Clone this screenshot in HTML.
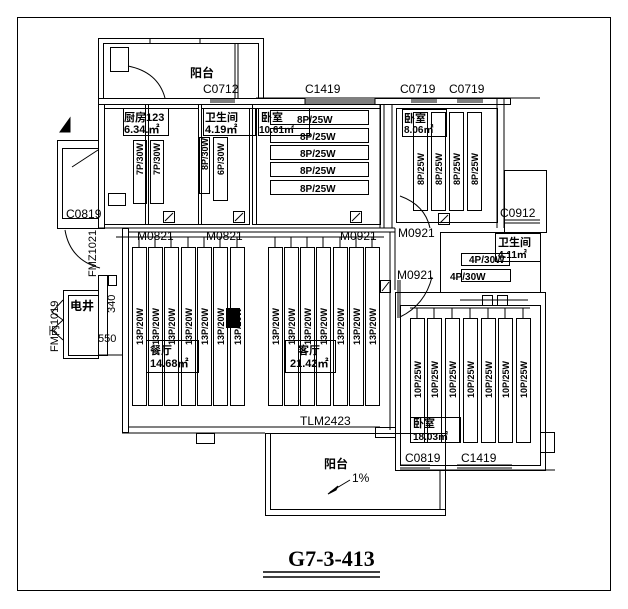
<!DOCTYPE html>
<html><head><meta charset="utf-8"><style>
html,body{margin:0;padding:0;background:#fff}
svg{display:block}
text{font-family:"Liberation Sans","Noto Sans CJK SC",sans-serif;fill:#000}
.n{font-family:"Liberation Sans Narrow","Liberation Sans",sans-serif}
.b{font-weight:bold}
</style></head><body>
<svg width="628" height="609" viewBox="0 0 628 609" xmlns="http://www.w3.org/2000/svg" fill="none" stroke="#000" stroke-width="1">
<!-- frame -->
<rect x="17.5" y="17.5" width="593" height="573"/>
<!-- top balcony -->
<rect x="98.5" y="38.5" width="165" height="60"/>
<rect x="103.5" y="43.5" width="155" height="55"/>
<rect x="110.5" y="47.5" width="18" height="24"/>
<line x1="150" y1="38" x2="150" y2="44"/><line x1="200" y1="38" x2="200" y2="44"/>
<path d="M128 66 Q158 72 165 98"/>
<line x1="235" y1="44" x2="235" y2="98"/><line x1="238" y1="44" x2="238" y2="98"/>
<!-- top wall -->
<rect x="98.5" y="98.5" width="412" height="6"/>
<line x1="256" y1="98" x2="540" y2="98"/>
<rect x="305" y="98" width="70" height="6" fill="#fff"/>
<line x1="305" y1="100" x2="375" y2="100"/><line x1="305" y1="102" x2="375" y2="102"/>
<line x1="210" y1="100" x2="235" y2="100"/><line x1="210" y1="102" x2="235" y2="102"/>
<line x1="411" y1="100" x2="437" y2="100"/><line x1="411" y1="102" x2="437" y2="102"/>
<line x1="457" y1="100" x2="483" y2="100"/><line x1="457" y1="102" x2="483" y2="102"/>
<!-- kitchen -->
<rect x="98.5" y="104.5" width="6" height="124"/>
<rect x="145.5" y="104.5" width="3" height="120"/>
<rect x="104.5" y="108.5" width="94" height="116"/>
<rect x="108.5" y="193.5" width="17" height="12"/>
<rect x="123.5" y="108.5" width="45" height="27"/>
<rect x="133.5" y="140.5" width="13" height="63"/><rect x="150.5" y="140.5" width="13" height="63"/>
<rect x="163.5" y="211.5" width="11" height="11"/><line x1="165" y1="221" x2="173" y2="213"/>
<!-- bath1 -->
<rect x="198.5" y="104.5" width="3" height="120"/><rect x="201.5" y="108.5" width="48" height="116"/>
<rect x="203.5" y="108.5" width="52" height="27"/>
<rect x="199.5" y="137.5" width="10" height="56"/><rect x="213.5" y="137.5" width="14" height="63"/>
<rect x="233.5" y="211.5" width="11" height="11"/><line x1="235" y1="221" x2="243" y2="213"/>
<!-- bedroom -->
<rect x="252.5" y="104.5" width="128" height="120"/>
<rect x="256.5" y="108.5" width="124" height="116"/>
<rect x="258.5" y="108.5" width="51" height="27"/>
<rect x="270.5" y="110.5" width="98" height="14"/><rect x="270.5" y="128.5" width="98" height="14"/>
<rect x="270.5" y="145.5" width="98" height="14"/><rect x="270.5" y="162.5" width="98" height="14"/>
<rect x="270.5" y="180.5" width="98" height="14"/>
<rect x="350.5" y="211.5" width="11" height="11"/><line x1="352" y1="221" x2="360" y2="213"/>
<line x1="380" y1="104" x2="380" y2="228"/><line x1="384" y1="104" x2="384" y2="228"/>
<line x1="392" y1="104" x2="392" y2="228"/>
<!-- right bedroom -->
<rect x="396.5" y="108.5" width="101" height="114"/>
<rect x="402.5" y="109.5" width="44" height="27"/>
<rect x="413.5" y="112.5" width="14" height="98"/><rect x="431.5" y="112.5" width="14" height="98"/>
<rect x="449.5" y="112.5" width="14" height="98"/><rect x="467.5" y="112.5" width="14" height="98"/>
<rect x="438.5" y="213.5" width="11" height="11"/><line x1="440" y1="223" x2="448" y2="215"/>
<path d="M400 196 Q425 205 430 228"/>
<line x1="497" y1="98" x2="497" y2="228"/><line x1="504" y1="98" x2="504" y2="228"/>
<rect x="504.5" y="170.5" width="42" height="62"/>
<line x1="504" y1="220" x2="540" y2="220"/><line x1="504" y1="223" x2="540" y2="223"/>
<!-- left protrusion -->
<rect x="57.5" y="140.5" width="41" height="88"/><rect x="62.5" y="148.5" width="36" height="70"/>
<path d="M60 132 L70 118 L70 132 Z" fill="#000"/>
<path d="M72 167 L98 150"/>
<path d="M65 230 Q70 260 100 268"/>
<!-- central living wall -->
<rect x="122.5" y="228.5" width="6" height="204"/>
<line x1="98" y1="228" x2="395" y2="228"/><line x1="128" y1="232" x2="395" y2="232"/>
<line x1="128" y1="427" x2="380" y2="427"/><line x1="122" y1="433" x2="265" y2="433"/>
<rect x="196.5" y="433.5" width="18" height="10"/>
<!-- living radiators -->
<g>
<rect x="132.5" y="247.5" width="14" height="158"/><rect x="148.5" y="247.5" width="14" height="158"/>
<rect x="164.5" y="247.5" width="14" height="158"/><rect x="181.5" y="247.5" width="14" height="158"/>
<rect x="197.5" y="247.5" width="14" height="158"/><rect x="213.5" y="247.5" width="14" height="158"/>
<rect x="230.5" y="247.5" width="14" height="158"/>
<rect x="268.5" y="247.5" width="14" height="158"/><rect x="284.5" y="247.5" width="14" height="158"/>
<rect x="300.5" y="247.5" width="14" height="158"/><rect x="316.5" y="247.5" width="14" height="158"/>
<rect x="333.5" y="247.5" width="14" height="158"/><rect x="349.5" y="247.5" width="14" height="158"/>
<rect x="365.5" y="247.5" width="14" height="158"/>
</g>
<line x1="116" y1="237" x2="384" y2="237"/>
<path d="M139 237v10M155 237v10M171 237v10M188 237v10M204 237v10M220 237v10M237 237v10M275 237v10M291 237v10M307 237v10M323 237v10M340 237v10M356 237v10M372 237v10"/>
<rect x="146.5" y="340.5" width="52" height="32"/><rect x="285.5" y="340.5" width="50" height="32"/>
<path d="M226 308 h14 v20 h-14z" fill="#000" stroke="none"/>
<!-- electric shaft -->
<rect x="63.5" y="290.5" width="35" height="68"/><rect x="68.5" y="295.5" width="30" height="60"/>
<path d="M63 300 L52 312 L63 320 L52 330 L63 340"/>
<rect x="98.5" y="275.5" width="9" height="80"/>
<rect x="108.5" y="275.5" width="8" height="10"/>
<line x1="98" y1="355" x2="123" y2="355"/>
<!-- right divider -->
<line x1="395" y1="228" x2="395" y2="290"/><line x1="390" y1="232" x2="390" y2="430"/>
<rect x="380.5" y="280.5" width="10" height="12"/><line x1="382" y1="291" x2="389" y2="282"/>
<path d="M398 280 L398 318 M400 280 L400 318 M400 317 Q425 305 432 277"/>
<!-- bath 2 -->
<rect x="440.5" y="232.5" width="100" height="60"/>
<rect x="495.5" y="233.5" width="45" height="28"/>
<rect x="461.5" y="253.5" width="48" height="12"/><rect x="461.5" y="269.5" width="49" height="12"/>
<rect x="482.5" y="295.5" width="10" height="10"/><rect x="497.5" y="295.5" width="10" height="10"/>
<line x1="460" y1="300" x2="528" y2="300"/>
<!-- lower bedroom -->
<rect x="395.5" y="292.5" width="150" height="178"/><rect x="400.5" y="305.5" width="140" height="160"/>
<line x1="410" y1="308" x2="530" y2="308"/>
<rect x="410.5" y="318.5" width="14" height="124"/><rect x="427.5" y="318.5" width="14" height="124"/>
<rect x="445.5" y="318.5" width="14" height="124"/><rect x="463.5" y="318.5" width="14" height="124"/>
<rect x="481.5" y="318.5" width="14" height="124"/><rect x="498.5" y="318.5" width="14" height="124"/>
<rect x="516.5" y="318.5" width="14" height="124"/>
<path d="M417 308v10M434 308v10M452 308v10M470 308v10M488 308v10M505 308v10M523 308v10"/>
<rect x="410.5" y="417.5" width="50" height="25"/>
<rect x="540.5" y="432.5" width="14" height="20"/>
<line x1="400" y1="470" x2="555" y2="470"/>
<line x1="400" y1="465" x2="430" y2="465"/><line x1="457" y1="465" x2="512" y2="465"/>
<line x1="457" y1="468" x2="512" y2="468"/><line x1="400" y1="468" x2="430" y2="468"/>
<!-- bottom balcony -->
<rect x="265.5" y="433.5" width="180" height="82"/><rect x="270.5" y="433.5" width="175" height="76"/>
<rect x="375.5" y="427.5" width="20" height="10"/>
<line x1="334" y1="427" x2="380" y2="427"/>
<path d="M330 492 L350 480" /><path d="M328 494 L338 486 L336 490 Z" fill="#000"/>
<line x1="440" y1="470" x2="440" y2="510"/>
<!-- title underline -->
<line x1="263" y1="572" x2="380" y2="572" stroke-width="1.5"/><line x1="263" y1="577" x2="380" y2="577" stroke-width="1.5"/>
<!-- texts -->
<g stroke="none">
<text x="190" y="77" font-size="12" class="b">阳台</text>
<text x="203" y="93" font-size="12" class="n">C0712</text>
<text x="305" y="93" font-size="12" class="n">C1419</text>
<text x="400" y="93" font-size="12" class="n">C0719</text>
<text x="449" y="93" font-size="12" class="n">C0719</text>
<text x="124" y="121" font-size="11" class="b">厨房123</text>
<text x="124" y="133" font-size="11" class="b">6.34.㎡</text>
<text x="205" y="121" font-size="11" class="b">卫生间</text>
<text x="205" y="133" font-size="11" class="b">4.19㎡</text>
<text x="261" y="121" font-size="11" class="b">卧室</text>
<text x="259" y="133" font-size="10" class="b">10.61㎡</text>
<text x="297" y="123" font-size="10" class="b">8P/25W</text>
<text x="300" y="140" font-size="10" class="b">8P/25W</text>
<text x="300" y="157" font-size="10" class="b">8P/25W</text>
<text x="300" y="174" font-size="10" class="b">8P/25W</text>
<text x="300" y="192" font-size="10" class="b">8P/25W</text>
<text x="404" y="122" font-size="11" class="b">卧室</text>
<text x="404" y="133" font-size="10" class="b">8.06㎡</text>
<text x="66" y="218" font-size="12" class="n">C0819</text>
<text x="137" y="240" font-size="12" class="n">M0821</text>
<text x="206" y="240" font-size="12" class="n">M0821</text>
<text x="340" y="240" font-size="12" class="n">M0921</text>
<text x="398" y="237" font-size="12" class="n">M0921</text>
<text x="500" y="217" font-size="12" class="n">C0912</text>
<text x="397" y="279" font-size="12" class="n">M0921</text>
<text x="498" y="246" font-size="11" class="b">卫生间</text>
<text x="498" y="258" font-size="10" class="b">4.11㎡</text>
<text x="469" y="263" font-size="10" class="b">4P/30W</text>
<text x="450" y="280" font-size="10" class="b">4P/30W</text>
<text x="70" y="310" font-size="12" class="b">电井</text>
<text x="150" y="354" font-size="11" class="b">餐厅</text>
<text x="150" y="367" font-size="11" class="b">14.68㎡</text>
<text x="298" y="354" font-size="11" class="b">客厅</text>
<text x="290" y="367" font-size="11" class="b">21.42㎡</text>
<text x="300" y="425" font-size="12" class="n">TLM2423</text>
<text x="413" y="427" font-size="11" class="b">卧室</text>
<text x="413" y="440" font-size="10" class="b">18.03㎡</text>
<text x="405" y="462" font-size="12" class="n">C0819</text>
<text x="461" y="462" font-size="12" class="n">C1419</text>
<text x="324" y="468" font-size="12" class="b">阳台</text>
<text x="352" y="482" font-size="12" class="n">1%</text>
<text x="96" y="277" font-size="11" class="n" transform="rotate(-90 96 277)">FMZ1021</text>
<text x="58" y="352" font-size="11" class="n" transform="rotate(-90 58 352)">FM丙1019</text>
<text x="115" y="313" font-size="11" class="n" transform="rotate(-90 115 313)">340</text>
<text x="98" y="342" font-size="11" class="n">550</text>
<text x="288" y="566" font-size="22" class="b" font-family="Liberation Serif, serif" style="font-family:'Liberation Serif',serif">G7-3-413</text>
</g>
<g stroke="none" font-size="9" class="b">
<text transform="translate(143 175) rotate(-90)" x="0" y="0" font-size="9" font-weight="bold">7P/30W</text>
<text transform="translate(160 175) rotate(-90)" font-size="9" font-weight="bold">7P/30W</text>
<text transform="translate(208 170) rotate(-90)" font-size="9" font-weight="bold">8P/30W</text>
<text transform="translate(224 175) rotate(-90)" font-size="9" font-weight="bold">6P/30W</text>
<text transform="translate(424 185) rotate(-90)" font-size="9" font-weight="bold">8P/25W</text>
<text transform="translate(442 185) rotate(-90)" font-size="9" font-weight="bold">8P/25W</text>
<text transform="translate(460 185) rotate(-90)" font-size="9" font-weight="bold">8P/25W</text>
<text transform="translate(478 185) rotate(-90)" font-size="9" font-weight="bold">8P/25W</text>
<text transform="translate(143 345) rotate(-90)" font-size="9" font-weight="bold">13P/20W</text>
<text transform="translate(159 345) rotate(-90)" font-size="9" font-weight="bold">13P/20W</text>
<text transform="translate(175 345) rotate(-90)" font-size="9" font-weight="bold">13P/20W</text>
<text transform="translate(192 345) rotate(-90)" font-size="9" font-weight="bold">13P/20W</text>
<text transform="translate(208 345) rotate(-90)" font-size="9" font-weight="bold">13P/20W</text>
<text transform="translate(224 345) rotate(-90)" font-size="9" font-weight="bold">13P/20W</text>
<text transform="translate(241 345) rotate(-90)" font-size="9" font-weight="bold">13P/20W</text>
<text transform="translate(279 345) rotate(-90)" font-size="9" font-weight="bold">13P/20W</text>
<text transform="translate(295 345) rotate(-90)" font-size="9" font-weight="bold">13P/20W</text>
<text transform="translate(311 345) rotate(-90)" font-size="9" font-weight="bold">13P/20W</text>
<text transform="translate(327 345) rotate(-90)" font-size="9" font-weight="bold">13P/20W</text>
<text transform="translate(344 345) rotate(-90)" font-size="9" font-weight="bold">13P/20W</text>
<text transform="translate(360 345) rotate(-90)" font-size="9" font-weight="bold">13P/20W</text>
<text transform="translate(376 345) rotate(-90)" font-size="9" font-weight="bold">13P/20W</text>
<text transform="translate(421 398) rotate(-90)" font-size="9" font-weight="bold">10P/25W</text>
<text transform="translate(438 398) rotate(-90)" font-size="9" font-weight="bold">10P/25W</text>
<text transform="translate(456 398) rotate(-90)" font-size="9" font-weight="bold">10P/25W</text>
<text transform="translate(474 398) rotate(-90)" font-size="9" font-weight="bold">10P/25W</text>
<text transform="translate(492 398) rotate(-90)" font-size="9" font-weight="bold">10P/25W</text>
<text transform="translate(509 398) rotate(-90)" font-size="9" font-weight="bold">10P/25W</text>
<text transform="translate(527 398) rotate(-90)" font-size="9" font-weight="bold">10P/25W</text>
</g>
</svg>
</body></html>
